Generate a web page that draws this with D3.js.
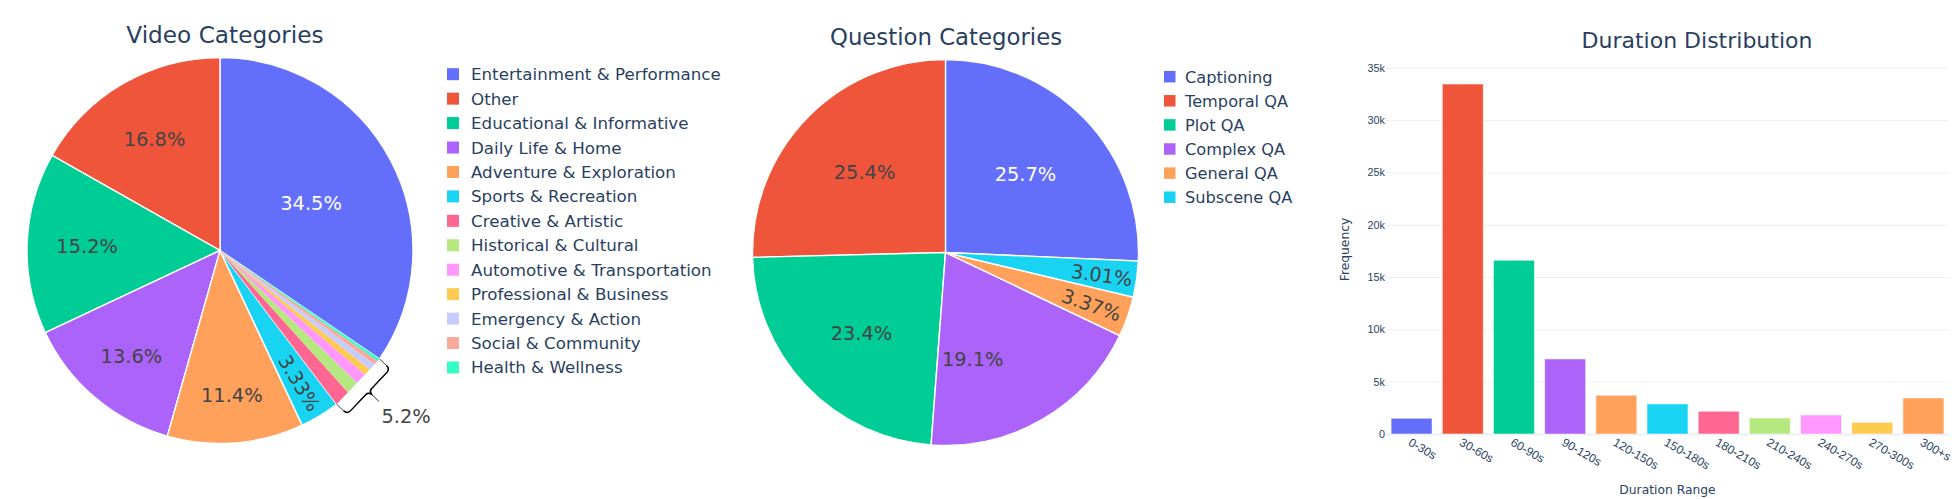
<!DOCTYPE html>
<html>
<head>
<meta charset="utf-8">
<title>charts</title>
<script src="https://d3js.org/d3.v7.min.js"></script>
<style>
	html, body { margin: 0; padding: 0; background: #fff; }
	svg { display: block; font-family: "DejaVu Sans", sans-serif; }
	.title, .legend text, .tick text, .axis-title { fill: #2a3f5f; }
	.domain { display: none; }
</style>
</head>
<body>
<svg id="chart" width="1956" height="499"></svg>
<script>
const videoCategories = ['Entertainment & Performance', 'Other', 'Educational & Informative', 'Daily Life & Home', 'Adventure & Exploration', 'Sports & Recreation', 'Creative & Artistic', 'Historical & Cultural', 'Automotive & Transportation', 'Professional & Business', 'Emergency & Action', 'Social & Community', 'Health & Wellness'];
const videoValues = [34.5, 16.8, 15.2, 13.6, 11.4, 3.33, 1.35, 1.1, 0.95, 0.6, 0.55, 0.4, 0.22];
const videoLabels = ['34.5%', '16.8%', '15.2%', '13.6%', '11.4%', '3.33%'];

const questionCategories = ['Captioning', 'Temporal QA', 'Plot QA', 'Complex QA', 'General QA', 'Subscene QA'];
const questionValues = [25.7, 25.4, 23.4, 19.1, 3.37, 3.01];
const questionLabels = ['25.7%', '25.4%', '23.4%', '19.1%', '3.37%', '3.01%'];

const durationRanges = ['0-30s', '30-60s', '60-90s', '90-120s', '120-150s', '150-180s', '180-210s', '210-240s', '240-270s', '270-300s', '300+s'];
const durationCounts = [1500, 33440, 16600, 7170, 3700, 2870, 2170, 1530, 1820, 1110, 3440];
const yTicks = [0, 5000, 10000, 15000, 20000, 25000, 30000, 35000];

const groupedLabel = '5.2%';

const colors = ['#636efa', '#ef553b', '#00cc96', '#ab63fa', '#ffa15a', '#19d3f3', '#ff6692', '#b6e880', '#ff97ff', '#fecb52', '#c8ccfd', '#f9aa9d', '#33ffc4'];
const barColors = ['#636efa', '#ef553b', '#00cc96', '#ab63fa', '#ffa15a', '#19d3f3', '#ff6692', '#b6e880', '#ff97ff', '#fecb52', '#ffa15a'];

const svg = d3.select('#chart');

// [radius, shift in degrees from the slice middle] of each inside label
const videoLabelPlace = [[103, 0], [130, 0], [133, 0], [137, 0], [144, 0], [154.4, 0]];
const questionLabelPlace = [[112.5, -1], [115, 1], [116, 0], [109.5, 15.7], [155, 0], [157.8, 0]];

function drawPie(cx, cy, r, values, labels, place) {
	const total = d3.sum(values);
	const start = values[0] / total * 2 * Math.PI;
	const slices = d3.pie().sort(null).startAngle(start).endAngle(start - 2 * Math.PI)(values);
	const arc = d3.arc().innerRadius(0).outerRadius(r);
	const g = svg.append('g').attr('transform', `translate(${cx},${cy})`);

	g.selectAll('path')
		.data(slices)
		.join('path')
		.attr('d', arc)
		.attr('fill', (d, i) => colors[i])
		.attr('stroke', '#fff')
		.attr('stroke-width', d => d.value < 2 ? 0 : 1.4);

	labels.forEach((t, i) => {
		const s = slices[i];
		const mid = (s.startAngle + s.endAngle) / 2 * 180 / Math.PI;
		const a = (mid + place[i][1]) * Math.PI / 180;
		// narrow slices get their text along the radius
		const rot = values[i] < 5 ? ((mid + 360) % 360) - 90 : 0;
		g.append('text')
			.attr('transform', `translate(${place[i][0] * Math.sin(a)},${-place[i][0] * Math.cos(a)}) rotate(${rot})`)
			.attr('text-anchor', 'middle')
			.attr('dy', '.4em')
			.attr('font-size', 19.4)
			.attr('fill', i == 0 ? '#fff' : '#444')
			.text(t);
	});
	return {g, slices};
}

function drawLegend(x, y, step, size, gap, fontSize, names) {
	const g = svg.append('g').attr('class', 'legend').attr('transform', `translate(${x},${y})`);
	names.forEach((n, i) => {
		g.append('rect')
			.attr('x', 0).attr('y', i * step - size / 2)
			.attr('width', size).attr('height', size)
			.attr('fill', colors[i]);
		g.append('text')
			.attr('x', gap).attr('y', i * step)
			.attr('dy', '.36em')
			.attr('font-size', fontSize)
			.text(n);
	});
}

function drawTitle(x, y, text, size) {
	svg.append('text').attr('class', 'title')
		.attr('x', x).attr('y', y)
		.attr('text-anchor', 'middle')
		.attr('font-size', size)
		.text(text);
}

// video pie, with the bracket over the seven thin slices
const radius = 193;
const videoPie = drawPie(220, 250.5, radius, videoValues, videoLabels, videoLabelPlace);
drawLegend(447, 74.2, 24.44, 12, 24, 16.7, videoCategories);
drawTitle(225, 43, 'Video Categories', 23.2);

const first = videoPie.slices[6].startAngle;
const last = videoPie.slices[0].startAngle - 2 * Math.PI;
const midAngle = (first + last) / 2;
const half = Math.abs(first - last) / 2;
const chordY = -radius * Math.cos(half), chordX = radius * Math.sin(half);
const edge = -205, corner = 5, tip = -208.5;

function bracketEdge(path) {
	path.quadraticCurveTo(-chordX, edge, -chordX + corner, edge);
	path.lineTo(-4, edge);
	path.quadraticCurveTo(-1, edge, 0, tip);
	path.quadraticCurveTo(1, edge, 4, edge);
	path.lineTo(chordX - corner, edge);
	path.quadraticCurveTo(chordX, edge, chordX, edge + corner);
}

const outline = d3.path();
outline.moveTo(-chordX, chordY);
outline.lineTo(-chordX, edge + corner);
bracketEdge(outline);
outline.lineTo(chordX, chordY);

const heavy = d3.path();
heavy.moveTo(-chordX, edge + corner);
bracketEdge(heavy);

const bracket = videoPie.g.append('g').attr('transform', `rotate(${midAngle * 180 / Math.PI})`);
bracket.append('path').attr('d', outline.toString()).attr('fill', '#fff').attr('stroke', '#000').attr('stroke-width', 0.7);
bracket.append('path').attr('d', heavy.toString()).attr('fill', 'none').attr('stroke', '#000').attr('stroke-width', 1.4);
bracket.append('line').attr('x1', 0).attr('x2', 0).attr('y1', tip).attr('y2', -219).attr('stroke', '#000').attr('stroke-width', 0.8);
videoPie.g.append('text')
	.attr('transform', `rotate(${midAngle * 180 / Math.PI}) translate(-7,-250) rotate(${-midAngle * 180 / Math.PI})`)
	.attr('text-anchor', 'middle').attr('dy', '.3em')
	.attr('font-size', 19.4).attr('fill', '#444')
	.text(groupedLabel);

// question pie
drawPie(945.5, 252.5, radius, questionValues, questionLabels, questionLabelPlace);
drawLegend(1164, 76.7, 24.1, 11.5, 21, 16.2, questionCategories);
drawTitle(946, 45, 'Question Categories', 22.8);

// duration bars
const x = d3.scaleBand().domain(durationRanges).range([1386, 1949]).padding(0.2).paddingOuter(0.1);
const y = d3.scaleLinear().domain([0, 35000]).range([434, 67.7]);

const yAxis = svg.append('g').attr('transform', 'translate(1386,0)')
	.call(d3.axisLeft(y).tickValues(yTicks).tickSize(0).tickPadding(1)
		.tickFormat(d => d == 0 ? '0' : d / 1000 + 'k'));
yAxis.selectAll('text').attr('font-size', 10.8);
yAxis.selectAll('line')
	.attr('x2', 563)
	.attr('stroke', '#ebf0f8')
	.attr('stroke-width', d => d == 0 ? 2 : 1);

svg.selectAll('rect.bar')
	.data(durationCounts)
	.join('rect')
	.attr('class', 'bar')
	.attr('x', (d, i) => x(durationRanges[i]))
	.attr('y', d => y(d))
	.attr('width', x.bandwidth())
	.attr('height', d => y(0) - y(d))
	.attr('fill', (d, i) => barColors[i])
	.attr('stroke', '#fff')
	.attr('stroke-opacity', 0.5)
	.attr('stroke-width', 1);

const xAxis = svg.append('g').attr('transform', 'translate(0,434)')
	.call(d3.axisBottom(x).tickSize(0));
xAxis.selectAll('text')
	.attr('font-size', 12)
	.attr('text-anchor', 'start')
	.attr('transform', 'translate(-2,7) rotate(30)')
	.attr('y', 0)
	.attr('dy', '.36em');

svg.append('text').attr('class', 'axis-title')
	.attr('x', 1667.5).attr('y', 490).attr('dy', '.36em')
	.attr('text-anchor', 'middle')
	.attr('font-size', 12.3)
	.text('Duration Range');
svg.append('text').attr('class', 'axis-title')
	.attr('transform', 'translate(1345,249.5) rotate(-90)')
	.attr('dy', '.36em')
	.attr('text-anchor', 'middle')
	.attr('font-size', 12.3)
	.text('Frequency');

drawTitle(1697, 47.5, 'Duration Distribution', 22);
</script>
</body>
</html>
